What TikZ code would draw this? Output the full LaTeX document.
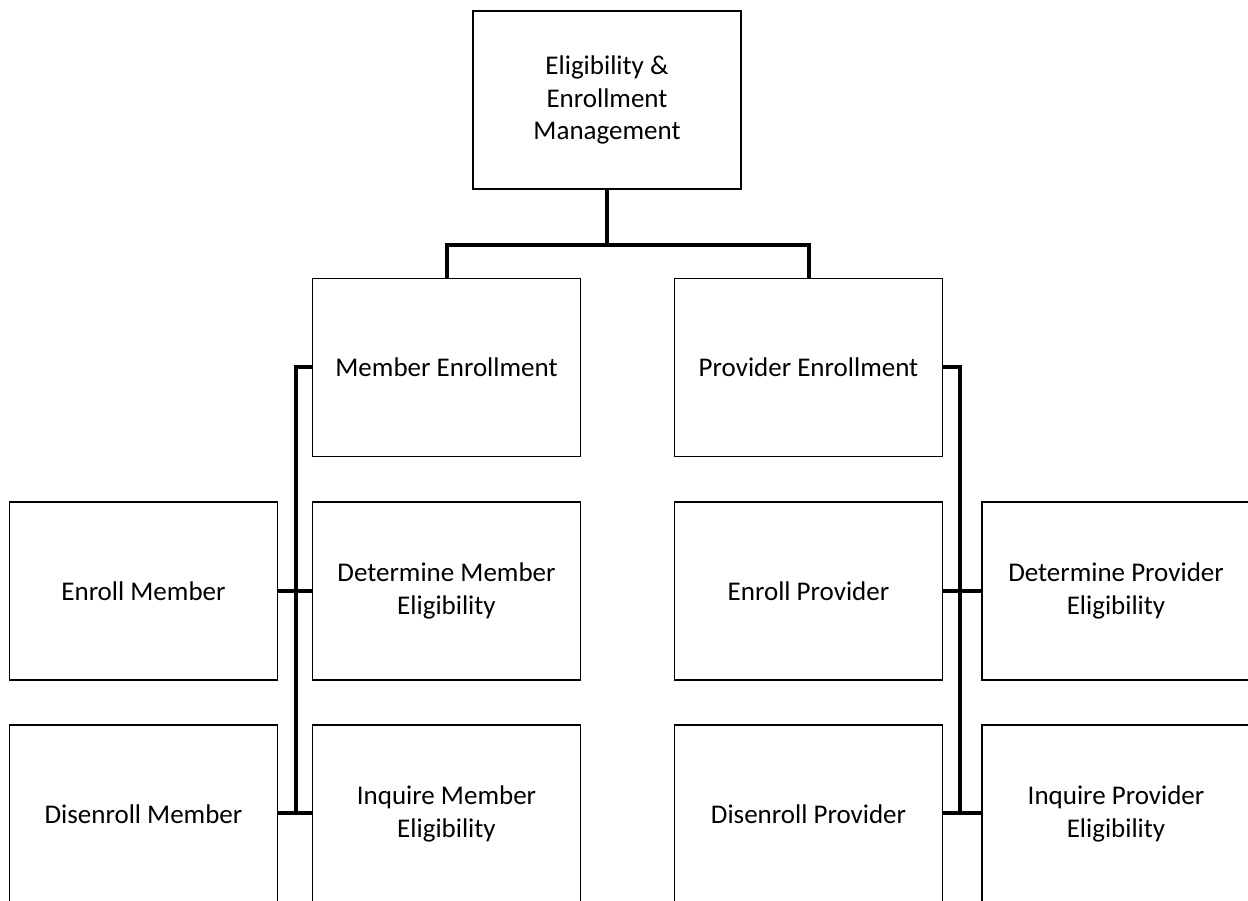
\documentclass[tikz,border=0pt]{standalone}
\usepackage{fontspec}
\setmainfont{Carlito}
\begin{document}
\begin{tikzpicture}[x=1pt,y=-1pt,
  box/.style={draw=black, line width=1.5pt, minimum width=268pt, minimum height=178pt,
    inner sep=0pt, align=center, font=\fontsize{27}{32.5}\selectfont},
  link/.style={draw=black, line width=4pt}]
  \useasboundingbox (0,0) rectangle (1248,901);
  \clip (0,0) rectangle (1248,901);

  % top level
  \node[box] (eem) at (607,100) {Eligibility \&\\Enrollment\\Management};

  % second level
  \node[box] (me) at (446.5,367.5) {Member Enrollment};
  \node[box] (pe) at (808.5,367.5) {Provider Enrollment};

  % member processes
  \node[box] (enm) at (143.5,591) {Enroll Member};
  \node[box] (dme) at (446.5,591) {Determine Member\\Eligibility};
  \node[box] (dism) at (143.5,814) {Disenroll Member};
  \node[box] (ime) at (446.5,814) {Inquire Member\\Eligibility};

  % provider processes
  \node[box] (enp) at (808.5,591) {Enroll Provider};
  \node[box] (dpe) at (1116,591) {Determine Provider\\Eligibility};
  \node[box] (disp) at (808.5,814) {Disenroll Provider};
  \node[box] (ipe) at (1116,814) {Inquire Provider\\Eligibility};

  % connector junctions
  \coordinate (bus) at (607,245);
  \coordinate (spineL) at (296,813);
  \coordinate (spineR) at (960,813);

  % top to second level
  \draw[link] (eem.south) -- (bus);
  \draw[link] (me.north) |- (bus) -| (pe.north);

  % member spine
  \draw[link] (me.west) -| (spineL);
  \draw[link] (enm.east) -- (dme.west);
  \draw[link] (dism.east |- spineL) -- (ime.west |- spineL);

  % provider spine
  \draw[link] (pe.east) -| (spineR);
  \draw[link] (enp.east) -- (dpe.west);
  \draw[link] (disp.east |- spineR) -- (ipe.west |- spineR);
\end{tikzpicture}
\end{document}
